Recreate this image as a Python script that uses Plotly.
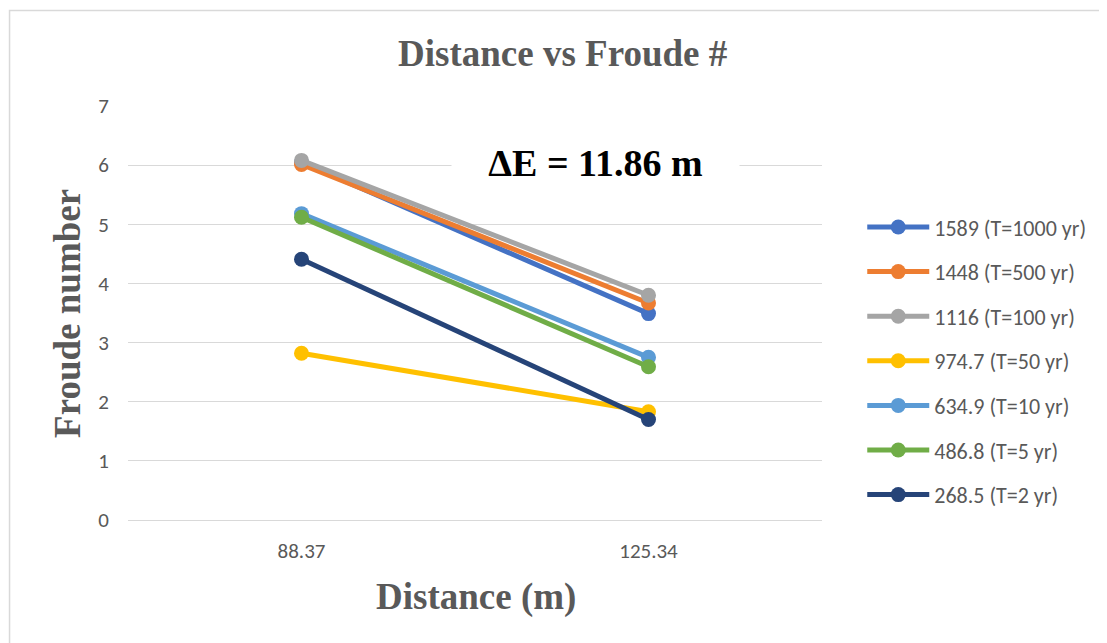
import plotly.graph_objects as go

# Distance stations (m) and Froude numbers per discharge
distance = ["88.37", "125.34"]

series_names = [
    "1589 (T=1000 yr)",
    "1448 (T=500 yr)",
    "1116 (T=100 yr)",
    "974.7 (T=50 yr)",
    "634.9 (T=10 yr)",
    "486.8 (T=5 yr)",
    "268.5 (T=2 yr)",
]
fr_1589 = [6.05, 3.49]
fr_1448 = [6.01, 3.67]
fr_1116 = [6.08, 3.80]
fr_974 = [2.82, 1.83]
fr_634 = [5.18, 2.75]
fr_486 = [5.12, 2.59]
fr_268 = [4.41, 1.70]

colors = ["#4472C4", "#ED7D31", "#A5A5A5", "#FFC000", "#5B9BD5", "#70AD47", "#264478"]
values = [fr_1589, fr_1448, fr_1116, fr_974, fr_634, fr_486, fr_268]

GRAY = "#595959"
SERIF = "Liberation Serif"
SANS = "Carlito, Lato, Liberation Sans, sans-serif"

fig = go.Figure()
for name, ys, c in zip(series_names, values, colors):
    fig.add_trace(go.Scatter(
        x=distance, y=ys, name=name, legendgroup=name, mode="lines+markers",
        line=dict(color=c, width=5),
        marker=dict(color=c, size=15),
    ))

fig.update_layout(
    width=1107, height=643,
    paper_bgcolor="white", plot_bgcolor="white",
    margin=dict(l=120, r=293, t=98, b=131),
    showlegend=True,
    legend=dict(
        x=1.058, y=0.758, xanchor="left", yanchor="top",
        font=dict(family=SANS, size=22, color=GRAY),
        tracegroupgap=13, itemwidth=62,
    ),
    xaxis=dict(
        type="category", range=[-0.5, 1.5],
        showgrid=False, zeroline=False, showline=False,
        tickfont=dict(family=SANS, size=21, color=GRAY),
        ticks="", ticklabelstandoff=16,
    ),
    yaxis=dict(
        range=[0, 7], dtick=1,
        showgrid=True, gridcolor="#D9D9D9", gridwidth=1.3,
        zeroline=True, zerolinecolor="#D9D9D9", zerolinewidth=1.3,
        tickfont=dict(family=SANS, size=21, color=GRAY),
        ticks="", ticklabelstandoff=18,
    ),
)

fig.add_annotation(
    text="<b>Distance vs Froude #</b>", xref="paper", yref="paper",
    x=0.627, y=1.128, xanchor="center", yanchor="middle", showarrow=False,
    font=dict(family=SERIF, size=37, color=GRAY),
)
fig.add_annotation(
    text="<b>Froude number</b>", xref="paper", yref="paper",
    x=-0.088, y=0.5, xanchor="center", yanchor="middle",
    textangle=-90, showarrow=False,
    font=dict(family=SERIF, size=37, color=GRAY),
)
fig.add_annotation(
    text="<b>Distance (m)</b>", xref="paper", yref="paper",
    x=0.501, y=-0.186, xanchor="center", yanchor="middle", showarrow=False,
    font=dict(family=SERIF, size=37, color=GRAY),
)
fig.add_annotation(
    text="<b>ΔE = 11.86 m</b>", xref="paper", yref="y",
    x=0.674, y=6.04, xanchor="center", yanchor="middle", showarrow=False,
    bgcolor="white", borderpad=2, width=283,
    font=dict(family=SERIF, size=38, color="black"),
)

# chart area border (left and top visible)
fig.add_shape(
    type="rect", xref="paper", yref="paper",
    x0=-0.1707, x1=1.5, y0=-0.5, y1=1.2307,
    line=dict(color="#D9D9D9", width=1.5), layer="below",
)

fig.write_html("out.html")
